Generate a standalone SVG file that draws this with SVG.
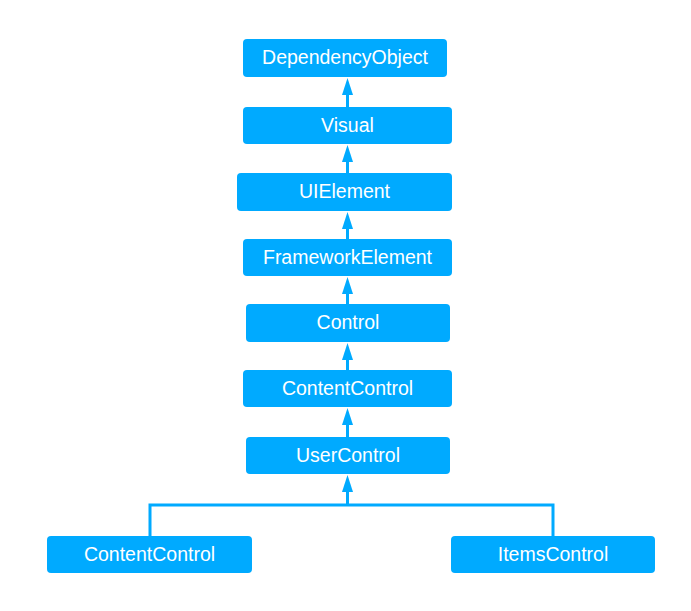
<svg xmlns="http://www.w3.org/2000/svg" width="691" height="611" viewBox="0 0 691 611">
  <defs>
    <style>
      .box { fill: #00AAFF; }
      .lbl { fill: #FFFFFF; font-family: "Liberation Sans", Arial, sans-serif; font-size: 19.5px; text-anchor: middle; }
      .edge { fill: none; stroke: #00AAFF; stroke-width: 3; }
    </style>
    <marker id="arrow" viewBox="0 0 17 11" refX="9" refY="5.5" markerWidth="17" markerHeight="11" markerUnits="userSpaceOnUse" orient="auto">
      <path d="M0,0 L17,5.5 L0,11 Z" fill="#00AAFF"/>
    </marker>
  </defs>
  <rect width="691" height="611" fill="#FFFFFF"/>
  <g id="connectors">
    <path class="edge" d="M347.5,107 V86" marker-end="url(#arrow)"/>
    <path class="edge" d="M347.5,173 V153" marker-end="url(#arrow)"/>
    <path class="edge" d="M347.5,239 V220" marker-end="url(#arrow)"/>
    <path class="edge" d="M347.5,304 V285" marker-end="url(#arrow)"/>
    <path class="edge" d="M347.5,370 V351" marker-end="url(#arrow)"/>
    <path class="edge" d="M347.5,437 V416" marker-end="url(#arrow)"/>
    <path class="edge" d="M150,536 V505 H553 V536"/>
    <path class="edge" d="M347.5,505 V483" marker-end="url(#arrow)"/>
  </g>
  <g id="node-dependencyobject">
    <rect class="box" x="243" y="39" width="204" height="38" rx="4"/>
    <text class="lbl" x="345" y="64">DependencyObject</text>
  </g>
  <g id="node-visual">
    <rect class="box" x="243" y="107" width="209" height="37" rx="4"/>
    <text class="lbl" x="347.5" y="131.5">Visual</text>
  </g>
  <g id="node-uielement">
    <rect class="box" x="237" y="173" width="215" height="38" rx="4"/>
    <text class="lbl" x="344.5" y="198">UIElement</text>
  </g>
  <g id="node-frameworkelement">
    <rect class="box" x="243" y="239" width="209" height="37" rx="4"/>
    <text class="lbl" x="347.5" y="263.5">FrameworkElement</text>
  </g>
  <g id="node-control">
    <rect class="box" x="246" y="304" width="204" height="38" rx="4"/>
    <text class="lbl" x="348" y="329">Control</text>
  </g>
  <g id="node-contentcontrol">
    <rect class="box" x="243" y="370" width="209" height="37" rx="4"/>
    <text class="lbl" x="347.5" y="394.5">ContentControl</text>
  </g>
  <g id="node-usercontrol">
    <rect class="box" x="246" y="437" width="204" height="37" rx="4"/>
    <text class="lbl" x="348" y="461.5">UserControl</text>
  </g>
  <g id="node-contentcontrol2">
    <rect class="box" x="47" y="536" width="205" height="37" rx="4"/>
    <text class="lbl" x="149.5" y="560.5">ContentControl</text>
  </g>
  <g id="node-itemscontrol">
    <rect class="box" x="451" y="536" width="204" height="37" rx="4"/>
    <text class="lbl" x="553" y="560.5">ItemsControl</text>
  </g>
</svg>
